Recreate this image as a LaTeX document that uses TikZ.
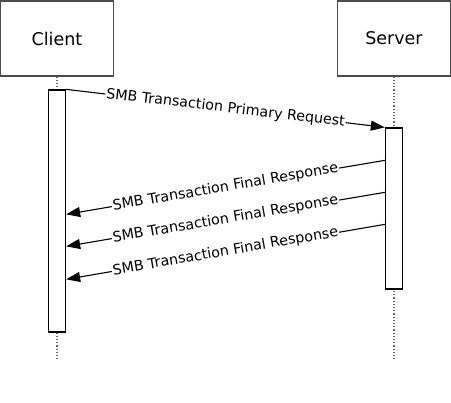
\documentclass[tikz,border=0pt]{standalone}
\usepackage{fontspec}
\setmainfont{DejaVu Sans}
\usetikzlibrary{positioning,arrows.meta}

\tikzset{
    actor/.style={draw=black!70, line width=1.3pt, minimum width=113pt, minimum height=75pt,
        inner sep=0pt, font=\fontsize{17.5}{20}\selectfont},
    actbar/.style={draw=black, line width=1.3pt, fill=white, minimum width=17pt, inner sep=0pt},
    lifeline/.style={draw=black!60, line width=1.2pt, dotted},
    msg/.style={draw=black, line width=1.1pt, -{Triangle[length=14pt,width=10pt]}},
    msglabel/.style={fill=white, sloped, inner sep=1pt, font=\fontsize{14.3}{16}\selectfont}
}

\begin{document}
\begin{tikzpicture}[x=1pt, y=-1pt]
        \useasboundingbox (0,0) rectangle (451,403);
        % the two parties
        \node [actor] (client) at (57,38.5) {Client};
        \node [actor] (server) at (394,38.5) {Server};
        \coordinate (clientend) at (57,361);
        \coordinate (serverend) at (394,361);
        \draw [lifeline] (client.south) -- (clientend);
        \draw [lifeline] (server.south) -- (serverend);
        % activation bars
        \node [actbar, minimum height=242pt] (clientbar) at (57,211) {};
        \node [actbar, minimum height=161pt] (serverbar) at (394,208.5) {};
        % message end points
        \coordinate (resp1s) at ([yshift=-33pt]serverbar.north west);
        \coordinate (resp2s) at ([yshift=-65pt]serverbar.north west);
        \coordinate (resp3s) at ([yshift=-97pt]serverbar.north west);
        \coordinate (resp1e) at ([yshift=-125pt]clientbar.north east);
        \coordinate (resp2e) at ([yshift=-157pt]clientbar.north east);
        \coordinate (resp3e) at ([yshift=-190pt]clientbar.north east);
        % messages
        \draw [msg] (clientbar.north east) -- node [msglabel] (request) {SMB Transaction Primary Request} (serverbar.north west);
        \draw [msg] (resp1s) -- node [msglabel] (response1) {SMB Transaction Final Response} (resp1e);
        \draw [msg] (resp2s) -- node [msglabel] (response2) {SMB Transaction Final Response} (resp2e);
        \draw [msg] (resp3s) -- node [msglabel] (response3) {SMB Transaction Final Response} (resp3e);
\end{tikzpicture}
\end{document}
